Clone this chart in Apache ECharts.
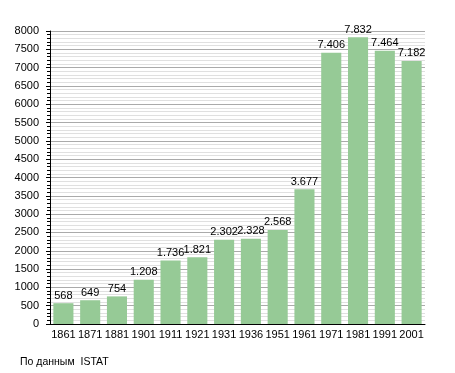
<!DOCTYPE html>
<html><head><meta charset="utf-8">
<script src="https://cdn.jsdelivr.net/npm/echarts@6/dist/echarts.min.js"></script>
<style>html,body{margin:0;padding:0;background:#fff}#c{width:455px;height:373px}</style>
</head><body><div id="c"></div>
<script>
var categories = ['1861','1871','1881','1901','1911','1921','1931','1936','1951','1961','1971','1981','1991','2001'];
var population = [568,649,754,1208,1736,1821,2302,2328,2568,3677,7406,7832,7464,7182];
var valueLabels = ['568','649','754','1.208','1.736','1.821','2.302','2.328','2.568','3.677','7.406','7.832','7.464','7.182'];
var yTicks = [0,500,1000,1500,2000,2500,3000,3500,4000,4500,5000,5500,6000,6500,7000,7500,8000];

var chart = echarts.init(document.getElementById('c'), null, {renderer:'canvas'});
var font = 'Liberation Sans, Arial, sans-serif';
chart.setOption({
  animation:false,
  grid:{left:50,right:30,top:31,bottom:49,containLabel:false},
  xAxis:{type:'category',data:categories,
    axisLine:{lineStyle:{color:'#000',width:1}},
    axisTick:{show:false},
    axisLabel:{color:'#000',fontFamily:font,fontSize:11,margin:5,interval:0}},
  yAxis:{type:'value',min:yTicks[0],max:yTicks[yTicks.length-1],interval:500,
    axisLine:{show:true,lineStyle:{color:'#000'}},
    axisTick:{show:true,length:4,lineStyle:{color:'#000'}},
    minorTick:{show:true,splitNumber:5,length:3,lineStyle:{color:'#000'}},
    splitLine:{show:true,lineStyle:{color:'#aaaaaa',width:1}},
    minorSplitLine:{show:true,lineStyle:{color:'#e0e0e0',width:1}},
    axisLabel:{color:'#000',fontFamily:font,fontSize:11,margin:11,
      formatter:function(v){return String(v);}}},
  series:[{type:'bar',data:population,barCategoryGap:'25%',
    itemStyle:{color:'#96ca96'},
    label:{show:true,position:'top',distance:2,color:'#000',fontFamily:font,fontSize:11,
      formatter:function(p){return valueLabels[p.dataIndex];}}}],
  graphic:[{type:'text',left:20,top:357,style:{text:'По данным  ISTAT',fill:'#000',font:'10.5px '+font}}]
});
</script></body></html>
